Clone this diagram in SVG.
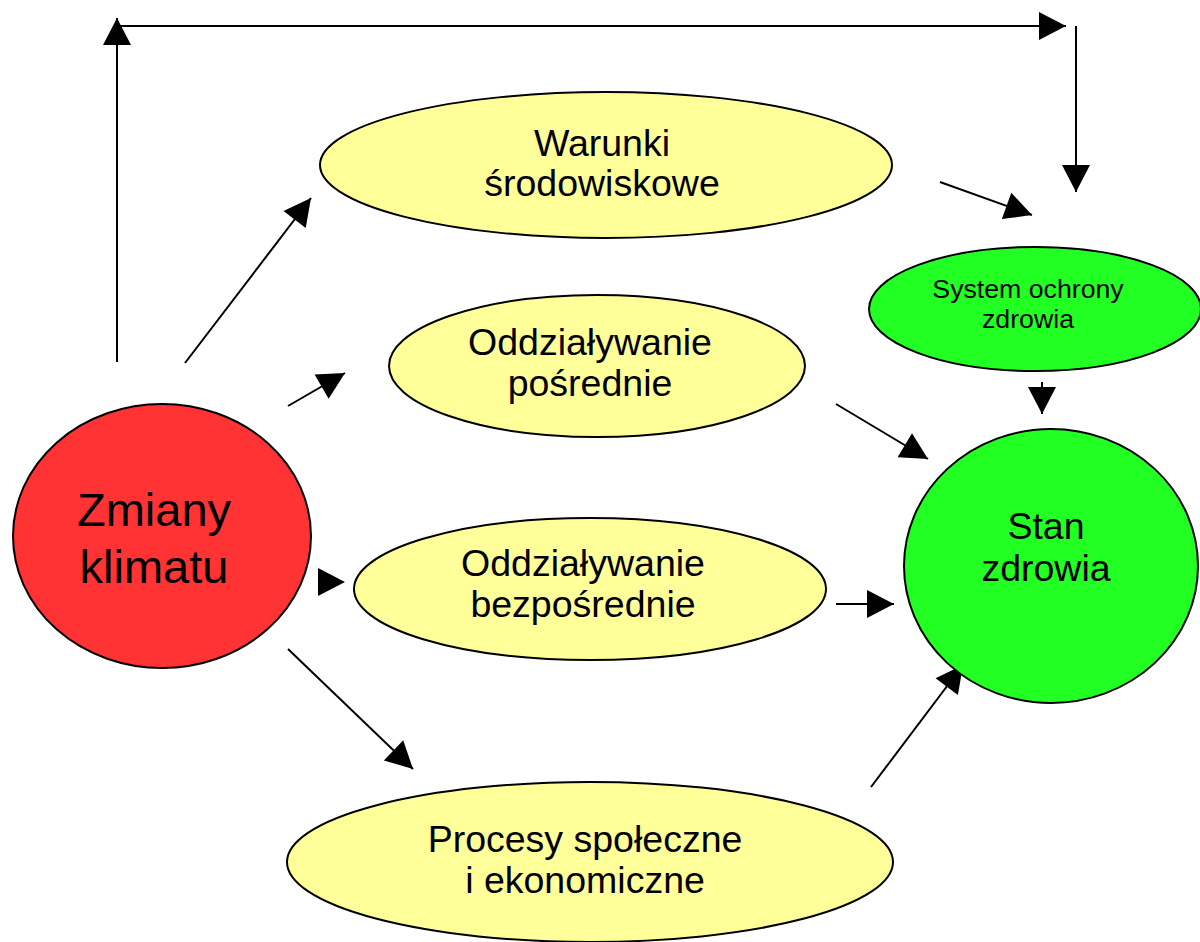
<svg xmlns="http://www.w3.org/2000/svg" width="1200" height="942" viewBox="0 0 1200 942">
<style>
.n{stroke:#000;stroke-width:2}
.red{fill:#FF3333}
.yel{fill:#FFFF99}
.grn{fill:#22FF22}
.t{font-family:"Liberation Sans",Arial,sans-serif;fill:#000;text-anchor:middle}
.c{stroke:#000;stroke-width:2;fill:none;marker-end:url(#ah)}
</style>
<defs>
<marker id="ah" markerUnits="userSpaceOnUse" markerWidth="28" markerHeight="28" refX="27" refY="14" orient="auto" overflow="visible">
<path d="M0,0 L27,14 L0,28 Z" fill="#000"/>
</marker>
</defs>
<rect width="1200" height="942" fill="#fff"/>
<g id="connectors">
<path class="c" d="M117,362 L117,18"/>
<path class="c" d="M117,26 L1066,26"/>
<path class="c" d="M1076,26 L1076,192"/>
<path class="c" d="M940,182 L1032,215"/>
<path class="c" d="M185,363 L311,198"/>
<path class="c" d="M288,406 L345,373"/>
<path class="c" d="M318,582 L345,582" style="stroke:none"/>
<path class="c" d="M288,649 L413,769"/>
<path class="c" d="M836,404 L928,459"/>
<path class="c" d="M836,604 L894,604"/>
<path class="c" d="M871,787 L963,665"/>
<path class="c" d="M1042,382 L1042,414"/>
</g>
<g id="zmiany">
<ellipse class="n red" cx="162" cy="536" rx="149" ry="132"/>
<text class="t" font-size="47" x="154" y="526">Zmiany</text>
<text class="t" font-size="47" x="154" y="583">klimatu</text>
</g>
<g id="warunki">
<ellipse class="n yel" cx="606" cy="165" rx="286" ry="73"/>
<text class="t" font-size="37.5" x="602" y="156">Warunki</text>
<text class="t" font-size="37.5" x="602" y="196">środowiskowe</text>
</g>
<g id="posrednie">
<ellipse class="n yel" cx="597" cy="366" rx="208" ry="71"/>
<text class="t" font-size="37.5" x="590" y="355">Oddziaływanie</text>
<text class="t" font-size="37.5" x="590" y="396">pośrednie</text>
</g>
<g id="bezposrednie">
<ellipse class="n yel" cx="590" cy="589" rx="236" ry="71"/>
<text class="t" font-size="37.5" x="583" y="576">Oddziaływanie</text>
<text class="t" font-size="37.5" x="583" y="617">bezpośrednie</text>
</g>
<g id="procesy">
<ellipse class="n yel" cx="590" cy="862" rx="303" ry="80"/>
<text class="t" font-size="37.5" x="585" y="852">Procesy społeczne</text>
<text class="t" font-size="37.5" x="585" y="893">i ekonomiczne</text>
</g>
<g id="system">
<ellipse class="n grn" cx="1035" cy="309" rx="166" ry="62"/>
<text class="t" font-size="26.7" x="1028" y="298">System ochrony</text>
<text class="t" font-size="26.7" x="1028" y="328">zdrowia</text>
</g>
<g id="stan">
<ellipse class="n grn" cx="1051" cy="566" rx="147" ry="137"/>
<text class="t" font-size="37.5" x="1046" y="539">Stan</text>
<text class="t" font-size="37.5" x="1046" y="581">zdrowia</text>
</g>
</svg>
